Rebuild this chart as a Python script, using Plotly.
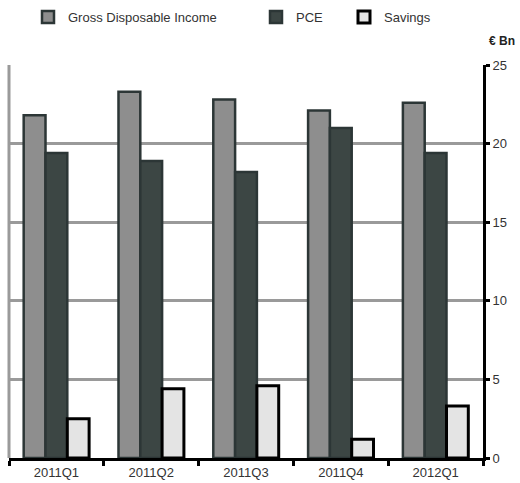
import plotly.graph_objects as go

quarters = ["2011Q1", "2011Q2", "2011Q3", "2011Q4", "2012Q1"]
gross_disposable_income = [21.8, 23.3, 22.8, 22.1, 22.6]
pce = [19.4, 18.9, 18.2, 21.0, 19.4]
savings = [2.5, 4.4, 4.6, 1.2, 3.3]
y_ticks = [0, 5, 10, 15, 20, 25]

W, H = 520, 483
M_L, M_R, M_T, M_B = 9, 37, 65, 25
plot_w = W - M_L - M_R
plot_h = H - M_T - M_B

def px_to_paper_x(px):
    return (px - M_L) / plot_w

def px_to_paper_y(py):
    return (H - M_B - py) / plot_h

TICK_FONT = dict(family="Liberation Sans Narrow, Arial Narrow, Liberation Sans, Arial", size=13, color="#333333")
LEGEND_FONT = dict(family="Liberation Sans, Arial", size=13, color="#333333")

fig = go.Figure()
fig.add_trace(go.Bar(
    name="Gross Disposable Income", x=quarters, y=gross_disposable_income,
    marker=dict(color="#8e8e8e", line=dict(color="#2c3636", width=2.5)),
    legend="legend",
))
fig.add_trace(go.Bar(
    name="PCE", x=quarters, y=pce,
    marker=dict(color="#3c4644", line=dict(color="#2c3636", width=2.5)),
    legend="legend2",
))
fig.add_trace(go.Bar(
    name="Savings", x=quarters, y=savings,
    marker=dict(color="#e4e4e4", line=dict(color="#000000", width=3)),
    legend="legend3",
))

legend_common = dict(
    orientation="h", yanchor="middle", y=px_to_paper_y(17),
    xanchor="left", font=LEGEND_FONT, bgcolor="rgba(0,0,0,0)",
    itemwidth=30, tracegroupgap=0,
)

fig.update_layout(
    width=W, height=H,
    margin=dict(l=M_L, r=M_R, t=M_T, b=M_B, pad=0, autoexpand=False),
    paper_bgcolor="white", plot_bgcolor="white",
    barmode="group", bargap=0.31, bargroupgap=0.0,
    legend=dict(x=px_to_paper_x(68 - 40), **legend_common),
    legend2=dict(x=px_to_paper_x(296 - 40), **legend_common),
    legend3=dict(x=px_to_paper_x(384 - 40), **legend_common),
    xaxis=dict(
        type="category", showgrid=False, zeroline=False,
        showline=True, linecolor="black", linewidth=3,
        ticks="outside", tickson="boundaries", ticklen=5, tickwidth=3, tickcolor="black",
        tickfont=TICK_FONT,
    ),
    yaxis=dict(
        side="right", range=[0, 25], tickvals=y_ticks,
        showgrid=True, gridcolor="#9a9a9a", gridwidth=3, zeroline=False,
        showline=True, linecolor="black", linewidth=3,
        ticks="outside", ticklen=4, tickwidth=3, tickcolor="black",
        tickfont=TICK_FONT,
    ),
    showlegend=True,
    shapes=[dict(
        type="line", xref="paper", yref="paper", x0=0, x1=0, y0=0, y1=1,
        line=dict(color="#9a9a9a", width=3), layer="below",
    )],
    annotations=[dict(
        text="<b>€ Bn</b>", xref="paper", yref="paper",
        x=px_to_paper_x(517), y=px_to_paper_y(41),
        xanchor="right", yanchor="middle", showarrow=False,
        font=dict(family="Liberation Sans, Arial", size=12, color="#222222"),
    )],
)

fig.write_html("out.html")
